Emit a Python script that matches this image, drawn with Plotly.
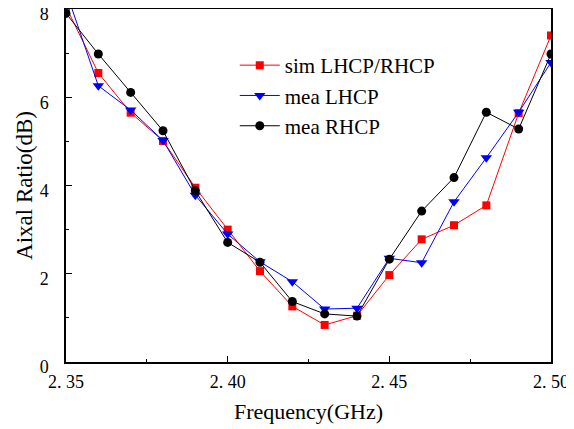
import plotly.graph_objects as go

freq = [2.35, 2.36, 2.37, 2.38, 2.39, 2.40, 2.41, 2.42, 2.43, 2.44, 2.45, 2.46, 2.47, 2.48, 2.49, 2.50]
sim_lr = [8.05, 6.55, 5.65, 5.01, 3.95, 3.00, 2.06, 1.26, 0.84, 1.05, 1.97, 2.78, 3.10, 3.55, 5.64, 7.40]
mea_l = [8.40, 6.26, 5.71, 5.02, 3.78, 2.90, 2.27, 1.82, 1.20, 1.22, 2.35, 2.25, 3.63, 4.63, 5.66, 6.79]
mea_r = [7.90, 6.98, 6.11, 5.24, 3.88, 2.71, 2.26, 1.37, 1.09, 1.04, 2.33, 3.42, 4.18, 5.66, 5.28, 6.98]

x_tickvals = [2.35, 2.40, 2.45, 2.50]
x_ticktext = ["2. 35", "2. 40", "2. 45", "2. 50"]
y_tickvals = [0, 2, 4, 6, 8]

FONT = "Liberation Serif, Times New Roman, serif"

fig = go.Figure()
fig.add_trace(go.Scatter(x=freq, y=sim_lr, mode="lines+markers", name="sim LHCP/RHCP",
                         line=dict(color="#ff0000", width=1),
                         marker=dict(symbol="square", size=8, color="#ff0000")))
fig.add_trace(go.Scatter(x=freq, y=mea_l, mode="lines+markers", name="mea LHCP",
                         line=dict(color="#0000ff", width=1),
                         marker=dict(symbol="triangle-down", size=10, color="#0000ff")))
fig.add_trace(go.Scatter(x=freq, y=mea_r, mode="lines+markers", name="mea RHCP",
                         line=dict(color="#000000", width=1),
                         marker=dict(symbol="circle", size=9, color="#000000")))

# page body has an 8px margin, so the figure is offset by 8px; compensate
fig.update_layout(
    width=566, height=421,
    margin=dict(l=58, r=23, t=1, b=67, autoexpand=False),
    paper_bgcolor="white", plot_bgcolor="white",
    font=dict(family=FONT, size=18, color="black"),
    showlegend=True,
    legend=dict(x=0.348, y=0.898, xanchor="left", yanchor="top",
                bgcolor="rgba(0,0,0,0)", font=dict(family=FONT, size=21),
                tracegroupgap=0, itemwidth=40),
    xaxis=dict(range=[2.35, 2.50], tickvals=x_tickvals, ticktext=x_ticktext,
               ticks="inside", ticklen=6, tickwidth=1, tickcolor="black",
               minor=dict(ticks="inside", ticklen=3, dtick=0.025, tickcolor="black"),
               showline=True, linecolor="black", linewidth=1.5, mirror=True,
               showgrid=False, zeroline=False, automargin=False,
               ticklabelstandoff=3, ticklabeloverflow="allow",
               title=dict(text="Frequency(GHz)", font=dict(size=22), standoff=12),
               tickfont=dict(size=18)),
    yaxis=dict(range=[0, 8], tickvals=y_tickvals,
               ticks="inside", ticklen=6, tickwidth=1, tickcolor="black",
               minor=dict(ticks="inside", ticklen=3, dtick=1, tickcolor="black"),
               showline=True, linecolor="black", linewidth=1.5, mirror=True,
               showgrid=False, zeroline=False, automargin=False,
               ticklabelstandoff=12, ticklabelshift=5, ticklabeloverflow="allow",
               title=dict(text="Aixal Ratio(dB)", font=dict(size=23), standoff=1),
               tickfont=dict(size=18)),
)

fig.write_html("out.html")
